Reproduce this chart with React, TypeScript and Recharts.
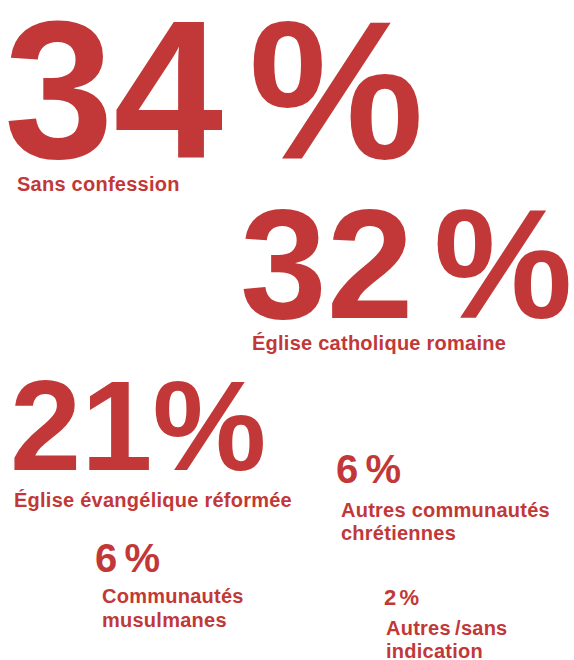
import React from 'react';
import { ScatterChart, Scatter, XAxis, YAxis } from 'recharts';

// shares of the resident population by religion
const categories = [
  'Sans confession',
  'Église catholique romaine',
  'Église évangélique réformée',
  'Autres communautés chrétiennes',
  'Communautés musulmanes',
  'Autres /sans indication',
];
const shares = [34, 32, 21, 6, 6, 2];
const labelLines = [
  ['Sans confession'],
  ['Église catholique romaine'],
  ['Église évangélique réformée'],
  ['Autres communautés', 'chrétiennes'],
  ['Communautés', 'musulmanes'],
  ['Autres\u2009/sans', 'indication'],
];

// layout of each block (axis units = px), kept apart from the values
const slots = [
  { x: 4, y: 158, size: 197, gap: 0.13, lx: 17, ly: 191, lh: 23 },
  { x: 240, y: 318, size: 156, gap: 0.13, lx: 252, ly: 350, lh: 23 },
  { x: 10, y: 470, size: 128, gap: 0, lx: 14, ly: 507, lh: 23 },
  { x: 336, y: 483, size: 40, gap: 0.18, lx: 341, ly: 517, lh: 23 },
  { x: 95, y: 572, size: 40, gap: 0.18, lx: 102, ly: 603, lh: 24 },
  { x: 384, y: 605, size: 22, gap: 0.15, lx: 386, ly: 635, lh: 23 },
];

const RED = '#c23838';
const FONT = '"Liberation Sans", Arial, Helvetica, sans-serif';
const W = 574;
const H = 660;

const data = shares.map((v, i) => ({
  name: categories[i],
  value: v,
  lines: labelLines[i],
  ...slots[i],
}));

const Block = (props: any) => {
  const { cx, cy, payload } = props;
  const dx = payload.lx - payload.x;
  const dy = payload.ly - payload.y;
  return (
    <g>
      <text x={cx} y={cy} fill={RED} fontFamily={FONT} fontWeight="bold" fontSize={payload.size}>
        {String(payload.value)}
        <tspan dx={payload.size * payload.gap}>%</tspan>
      </text>
      {payload.lines.map((line: string, i: number) => (
        <text
          key={i}
          x={cx + dx}
          y={cy + dy + i * payload.lh}
          fill={RED}
          fontFamily={FONT}
          fontWeight="bold"
          fontSize={20}
          letterSpacing={0.25}
        >
          {line}
        </text>
      ))}
    </g>
  );
};

export default function App() {
  return (
    <div style={{ width: W, height: H, background: '#fff' }}>
      <style>{'body{margin:0}'}</style>
      <ScatterChart width={W} height={H} margin={{ top: 0, right: 0, bottom: 0, left: 0 }}>
        <XAxis type="number" dataKey="x" domain={[0, W]} hide />
        <YAxis type="number" dataKey="y" domain={[0, H]} reversed hide />
        <Scatter data={data} shape={<Block />} isAnimationActive={false} />
      </ScatterChart>
    </div>
  );
}
